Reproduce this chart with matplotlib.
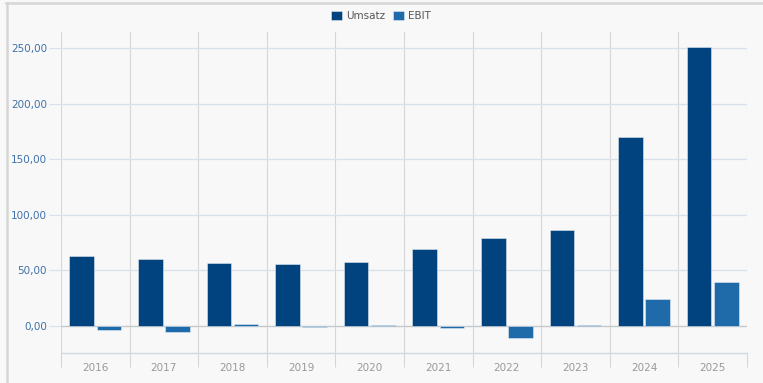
import numpy as np
import matplotlib.pyplot as plt
from matplotlib.ticker import FixedLocator, FuncFormatter

years = ["2016", "2017", "2018", "2019", "2020", "2021", "2022", "2023", "2024", "2025"]
umsatz = [63.0, 60.3, 57.0, 55.5, 57.8, 69.2, 78.8, 86.3, 170.0, 251.0]
ebit = [-3.9, -5.4, 2.0, -0.5, 1.2, -1.5, -10.8, 0.5, 24.0, 39.3]

col_umsatz = "#00437f"
col_ebit = "#1f6aa8"
bg = "#f8f8f8"

fig = plt.figure(figsize=(7.63, 3.83), dpi=100, facecolor=bg)
ax = fig.add_axes([61 / 763, 30 / 383, 686 / 763, 321 / 383])
ax.set_facecolor(bg)

x = np.arange(len(years))
w = 0.36
off = 0.198
ax.bar(x - off, umsatz, w, color=col_umsatz, edgecolor="#ffffff80", linewidth=0.6,
       label="Umsatz", zorder=3)
ax.bar(x + off, ebit, w, color=col_ebit, edgecolor="#ffffff80", linewidth=0.6,
       label="EBIT", zorder=3)

ax.set_xlim(-0.5, len(years) - 0.5)
ax.set_ylim(-24.3, 264.4)

# y axis: gridlines every 50
ax.yaxis.set_major_locator(FixedLocator([0, 50, 100, 150, 200, 250]))
ax.yaxis.set_major_formatter(FuncFormatter(lambda v, p: f"{v:.2f}".replace(".", ",")))
ax.tick_params(axis="y", length=9, width=0.8, color="#d8e0ea", labelsize=7.5,
               labelcolor="#4070a8", pad=1)
ax.grid(axis="y", color="#d8e0ea", linewidth=0.9, zorder=1)

# x axis: labels at centers, grid lines at category boundaries
ax.set_xticks(x)
ax.set_xticklabels(years)
ax.set_xticks(np.arange(len(years) + 1) - 0.5, minor=True)
ax.tick_params(axis="x", which="major", length=0, labelsize=7.5, labelcolor="#999999", pad=7)
ax.tick_params(axis="x", which="minor", length=10, width=0.8, color="#d6d6d6")
ax.grid(axis="x", which="minor", color="#d6d6d6", linewidth=0.8, zorder=1)

ax.axhline(0, color="#c8c8c8", linewidth=0.9, zorder=2)

for s in ["top", "right", "left"]:
    ax.spines[s].set_visible(False)
ax.spines["bottom"].set_color("#d0d8e4")
ax.spines["bottom"].set_linewidth(1.0)

leg = fig.legend(loc="center", bbox_to_anchor=(381 / 763, 1 - 16 / 383), ncol=2,
                 frameon=False, fontsize=7.5, handlelength=1.0, handleheight=1.0,
                 handletextpad=0.4, columnspacing=0.8)
for t in leg.get_texts():
    t.set_color("#555555")

# frame lines on the top and left edges
fig.add_artist(plt.Line2D([6 / 763, 1], [1 - 2.5 / 383] * 2, color="#d6d6d6", linewidth=1.8))
fig.add_artist(plt.Line2D([6.5 / 763] * 2, [0, 1 - 2.5 / 383], color="#d6d6d6", linewidth=1.8))

fig.savefig("out.png", dpi=100, facecolor=bg)
